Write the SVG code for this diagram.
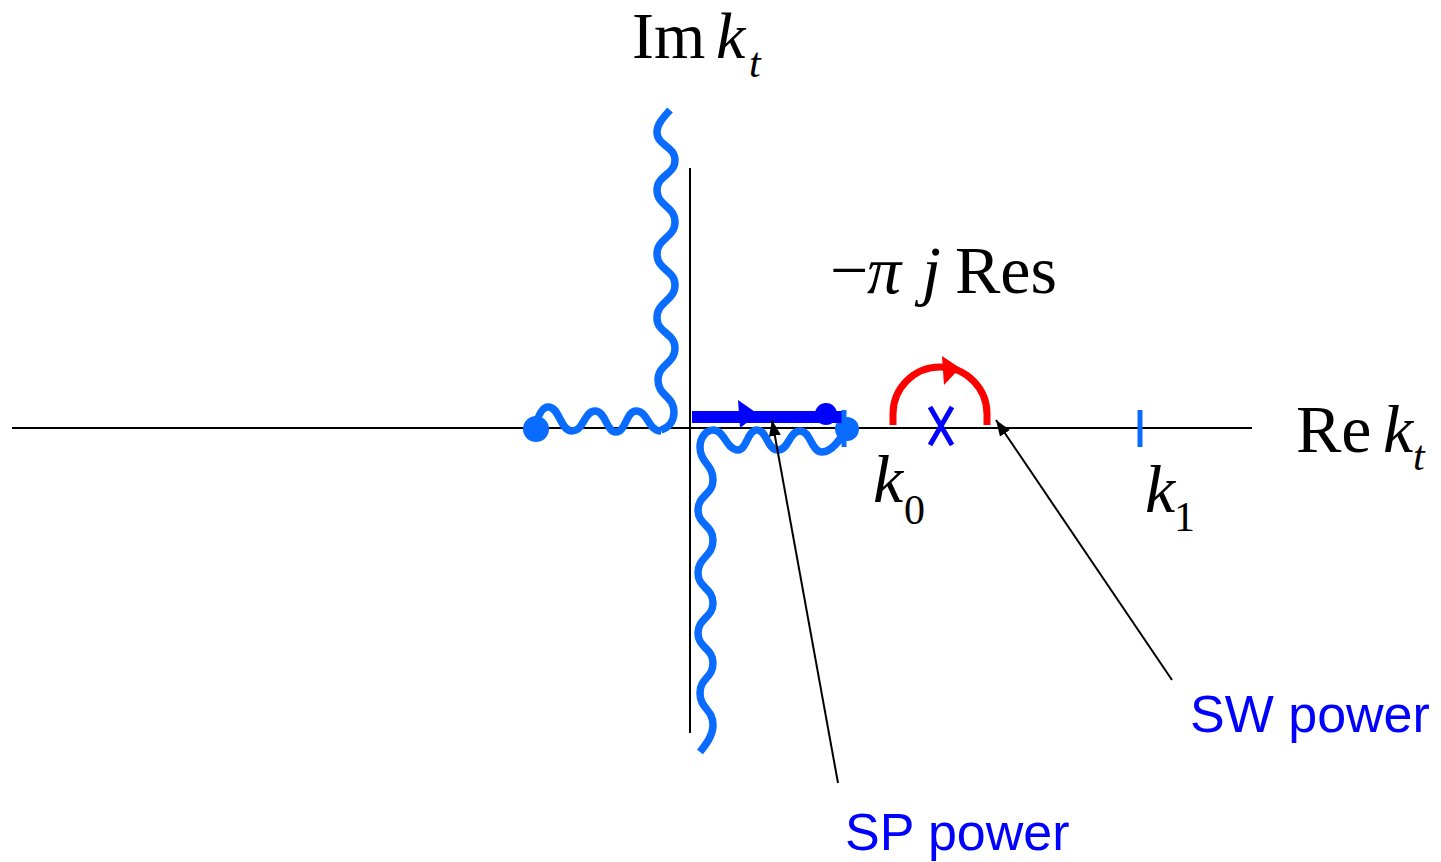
<svg xmlns="http://www.w3.org/2000/svg" width="1441" height="862" viewBox="0 0 1441 862">
<style>
.axis{stroke:#000;stroke-width:2;fill:none}
.wave{stroke:#0A6CFF;stroke-width:7.5;fill:none;stroke-linecap:butt;stroke-linejoin:round}
.lb{fill:#0A6CFF}
.db{fill:#0000FF}
.ptr{stroke:#000;stroke-width:2;fill:none}
.m{font-family:"Liberation Serif","Times New Roman",serif;fill:#000}
.i{font-style:italic}
.lab{font-family:"Liberation Sans",Arial,sans-serif;font-size:52px;fill:#0000FF}
</style>
<defs>
<marker id="ah" viewBox="0 0 16 12" refX="16" refY="6" markerWidth="16" markerHeight="12" markerUnits="userSpaceOnUse" orient="auto">
<path d="M0,0 L16,6 L0,12 z" fill="#000"/>
</marker>
</defs>
<rect width="1441" height="862" fill="#fff"/>
<g id="axes">
<line class="axis" x1="12" y1="428" x2="1252" y2="428"/>
<line class="axis" x1="690" y1="168" x2="690" y2="733"/>
</g>
<g id="branch-cut-upper">
<path class="wave" d="M670,110 C663,118 657,124 657,132 C657,146 675,146 675,160 C675,175 657,175 657,190 C657,206 675,206 675,222 C675,238 657,238 657,254 C657,270 675,270 675,285 C675,301 657,301 657,318 C657,333 675,333 675,348 C675,364 658,364 658,380 C658,396 674,396 674,412 C674,422 668,428 661,430"/>
<path class="wave" d="M535,428 C538,416 542,407 548,407 C560,407 560,431 572,431 C584,431 584,411 595,411 C606,411 606,432 616,432 C626,432 626,411 636,411 C648,411 648,431 661,431"/>
<circle class="lb" cx="536" cy="429" r="13"/>
</g>
<g id="branch-cut-lower">
<path class="wave" d="M847,428 C840,440 832,452 822,452 C811,452 811,431 800,431 C789,431 789,450 778,450 C767,450 767,430 757,430 C747,430 747,450 738,450 C726,450 725,430 713,430 C706,430 700,438 700,447 C700,463 713,464 713,480 C713,495 698,495 698,510 C698,525 713,525 713,540 C713,557 698,557 698,573 C698,588 713,588 713,603 C713,618 698,618 698,633 C698,648 713,648 713,663 C713,678 700,678 700,693 C700,709 713,709 713,725 C713,735 707,743 700,752"/>
<circle class="lb" cx="847" cy="429" r="12"/>
</g>
<g id="sp-path">
<rect class="db" x="692" y="411" width="150" height="12"/>
<path class="db" d="M738,400 L740,428 L758,414 z"/>
<circle class="db" cx="826" cy="414" r="11"/>
</g>
<g id="k0-tick">
<line x1="844" y1="410" x2="844" y2="447" stroke="#0A6CFF" stroke-width="5"/>
</g>
<g id="k1-tick">
<line x1="1140" y1="410" x2="1140" y2="447" stroke="#0A6CFF" stroke-width="5"/>
</g>
<g id="pole">
<line x1="930" y1="407" x2="952" y2="445" stroke="#0000FF" stroke-width="5"/>
<line x1="952" y1="407" x2="930" y2="445" stroke="#0000FF" stroke-width="5"/>
</g>
<g id="residue-arc">
<path d="M893,425 L893,414 A47,47 0 0 1 987,414 L987,425" stroke="#FF0000" stroke-width="7" fill="none"/>
<path d="M942,356 L944,385 L960,368 z" fill="#FF0000"/>
</g>
<g id="connectors">
<line class="ptr" x1="838" y1="783" x2="772" y2="420" marker-end="url(#ah)"/>
<line class="ptr" x1="1172" y1="680" x2="996" y2="420" marker-end="url(#ah)"/>
</g>
<g id="labels">
<text class="m" x="632" y="58" font-size="66">Im</text>
<text class="m i" x="716" y="58" font-size="66">k</text>
<text class="m i" x="749" y="77" font-size="42">t</text>
<text class="m" x="830" y="293" font-size="68">−</text>
<text class="m i" x="867" y="293" font-size="68">π</text>
<text class="m i" x="922" y="293" font-size="68">j</text>
<text class="m" x="955" y="293" font-size="68">Res</text>
<text class="m" x="1296" y="452" font-size="68">Re</text>
<text class="m i" x="1383" y="452" font-size="68">k</text>
<text class="m i" x="1413" y="470" font-size="42">t</text>
<text class="m i" x="873" y="502" font-size="68">k</text>
<text class="m" x="904" y="524" font-size="42">0</text>
<text class="m i" x="1145" y="512" font-size="68">k</text>
<text class="m" x="1174" y="531" font-size="42">1</text>
</g>
<g id="sw-label"><text class="lab" x="1190" y="732">SW power</text></g>
<g id="sp-label"><text class="lab" x="845" y="850">SP power</text></g>
</svg>
